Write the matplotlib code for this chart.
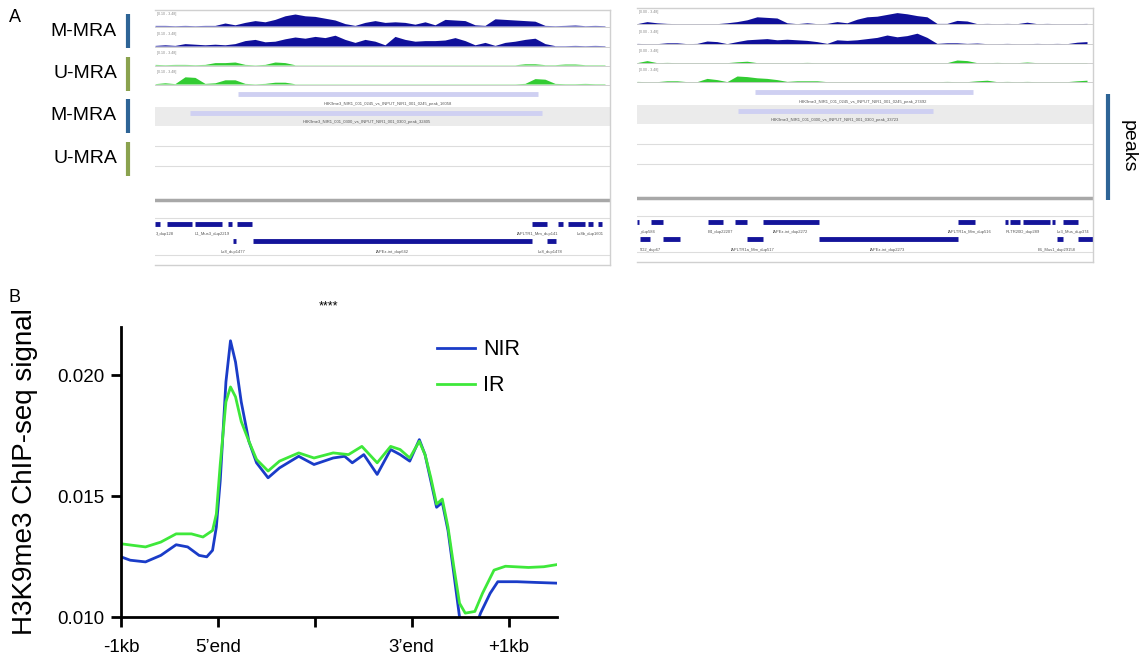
import numpy as np
import matplotlib.pyplot as plt

plt.rcParams['font.family'] = ['Liberation Sans', 'DejaVu Sans']

W, H = 1144, 663

# ---------------- panel A: browser tracks (coverage fractions of track max) ----------------
cov_left = [
    [0.05, 0.05, 0.03, 0.05, 0.03, 0.05, 0.05, 0.25, 0.1, 0.3, 0.45, 0.35, 0.55, 0.85, 1.0, 0.85,
     0.8, 0.65, 0.5, 0.2, 0.05, 0.3, 0.45, 0.3, 0.35, 0.3, 0.15, 0.35, 0.1, 0.55, 0.5, 0.45, 0.1,
     0.05, 0.6, 0.55, 0.5, 0.45, 0.4, 0.05, 0.03, 0.05, 0.08, 0.03, 0.05, 0.03],
    [0.05, 0.1, 0.05, 0.2, 0.15, 0.1, 0.15, 0.1, 0.2, 0.45, 0.55, 0.35, 0.4, 0.6, 0.75, 0.65,
     0.8, 0.7, 0.9, 0.55, 0.3, 0.55, 0.4, 0.1, 0.8, 0.55, 0.4, 0.45, 0.45, 0.5, 0.7, 0.45, 0.1,
     0.3, 0.05, 0.3, 0.4, 0.55, 0.65, 0.2, 0.03, 0.03, 0.05, 0.03, 0.05, 0.03],
    [0.05, 0.03, 0.05, 0.05, 0.03, 0.05, 0.2, 0.2, 0.25, 0.05, 0.02, 0.05, 0.25, 0.2, 0.02, 0.02,
     0.02, 0.02, 0.02, 0.02, 0.02, 0.02, 0.02, 0.02, 0.02, 0.02, 0.02, 0.02, 0.02, 0.02, 0.02, 0.02,
     0.02, 0.02, 0.02, 0.02, 0.02, 0.1, 0.1, 0.03, 0.03, 0.08, 0.08, 0.03, 0.03, 0.03],
    [0.03, 0.1, 0.03, 0.6, 0.55, 0.05, 0.1, 0.35, 0.35, 0.05, 0.02, 0.05, 0.15, 0.15, 0.02, 0.02,
     0.02, 0.02, 0.02, 0.02, 0.02, 0.02, 0.02, 0.02, 0.02, 0.02, 0.02, 0.02, 0.02, 0.02, 0.02, 0.02,
     0.02, 0.02, 0.02, 0.02, 0.02, 0.05, 0.45, 0.4, 0.05, 0.03, 0.03, 0.05, 0.03, 0.03],
]
cov_right = [
    [0.03, 0.2, 0.1, 0.05, 0.03, 0.03, 0.03, 0.03, 0.03, 0.1, 0.2, 0.35, 0.6, 0.55, 0.5, 0.1,
     0.03, 0.1, 0.03, 0.05, 0.2, 0.1, 0.4, 0.6, 0.65, 0.8, 0.95, 0.85, 0.7, 0.6, 0.05, 0.05, 0.3,
     0.25, 0.03, 0.05, 0.03, 0.05, 0.03, 0.15, 0.03, 0.05, 0.03, 0.03, 0.03, 0.05],
    [0.05, 0.03, 0.03, 0.1, 0.1, 0.03, 0.05, 0.25, 0.2, 0.03, 0.2, 0.35, 0.4, 0.45, 0.35, 0.4,
     0.35, 0.3, 0.2, 0.05, 0.35, 0.3, 0.35, 0.45, 0.55, 0.75, 0.6, 0.7, 0.9, 0.55, 0.05, 0.1, 0.1,
     0.05, 0.08, 0.03, 0.03, 0.05, 0.03, 0.03, 0.05, 0.03, 0.05, 0.03, 0.15, 0.2],
    [0.03, 0.2, 0.03, 0.05, 0.03, 0.03, 0.03, 0.03, 0.03, 0.03, 0.1, 0.15, 0.03, 0.03, 0.03, 0.03,
     0.03, 0.05, 0.03, 0.03, 0.03, 0.03, 0.03, 0.03, 0.03, 0.03, 0.03, 0.03, 0.03, 0.03, 0.03, 0.03,
     0.25, 0.2, 0.03, 0.03, 0.05, 0.03, 0.03, 0.08, 0.03, 0.03, 0.03, 0.03, 0.03, 0.03],
    [0.05, 0.03, 0.03, 0.1, 0.1, 0.03, 0.03, 0.3, 0.2, 0.03, 0.5, 0.45, 0.35, 0.3, 0.2, 0.05,
     0.1, 0.1, 0.1, 0.03, 0.03, 0.03, 0.03, 0.03, 0.03, 0.03, 0.03, 0.03, 0.03, 0.03, 0.03, 0.05,
     0.03, 0.03, 0.1, 0.15, 0.03, 0.05, 0.03, 0.05, 0.03, 0.03, 0.03, 0.03, 0.1, 0.15],
]
track_colors = ['#10109a', '#10109a', '#33cc33', '#33cc33']
range_left = '[0.10 - 3.48]'
range_right = '[0.00 - 3.48]'

peaks_left = [(83, 383, 'H3K9me3_NIR1_001_0245_vs_INPUT_NIR1_001_0245_peak_16058', 233),
              (35, 387, 'H3K9me3_NIR1_001_0300_vs_INPUT_NIR1_001_0300_peak_32405', 212)]
peaks_right = [(118, 336, 'H3K9me3_NIR1_001_0245_vs_INPUT_NIR1_001_0245_peak_27492', 226),
               (101, 296, 'H3K9me3_NIR1_001_0300_vs_INPUT_NIR1_001_0300_peak_33723', 198)]

rep_left_1 = [(0, 5), (12, 37), (40, 67), (73, 77), (82, 97), (377, 392), (403, 408),
              (413, 430), (433, 438), (443, 447)]
rep_left_1_lab = [('3_dup128', 10), ('L1_Mus3_dup2219', 57), ('IAPLTR1_Mm_dup141', 382),
                  ('Lx8b_dup1601', 435)]
rep_left_2 = [(78, 81), (98, 377), (392, 401)]
rep_left_2_lab = [('Lx8_dup1477', 78), ('IAPEz-int_dup642', 237), ('Lx8_dup1478', 395)]

rep_right_1 = [(0, 2), (14, 26), (71, 86), (98, 110), (126, 182), (321, 338), (368, 371),
               (373, 383), (386, 413), (415, 418), (426, 441)]
rep_right_1_lab = [('_dup584', 10), ('B4_dup22207', 83), ('IAPEz-int_dup2272', 153),
                   ('IAPLTR1a_Mm_dup516', 333), ('RLTR20D_dup289', 386), ('Lx3_Mus_dup374', 436)]
rep_right_2 = [(3, 13), (26, 43), (110, 126), (182, 321), (420, 426), (441, 456)]
rep_right_2_lab = [('5D2_dup67', 13), ('IAPLTR1a_Mm_dup517', 116), ('IAPEz-int_dup2273', 250),
                   ('B1_Mus1_dup29158', 420)]

row_labels = ['M-MRA', 'U-MRA', 'M-MRA', 'U-MRA']
row_colors = ['#2e6496', '#8aa24e', '#2e6496', '#8aa24e']

# ---------------- panel B: profile ----------------
pos_ticks = [0, 1, 2, 3, 4]
pos_labels = ['-1kb', '5\u2019end', '', '3\u2019end', '+1kb']

nir_x = [0, 0.095, 0.253, 0.411, 0.569, 0.688, 0.806, 0.885, 0.945, 0.984, 1.024, 1.083, 1.130,
         1.182, 1.241, 1.320, 1.399, 1.518, 1.636, 1.834, 1.992, 2.190, 2.308, 2.387, 2.506, 2.644,
         2.783, 2.881, 2.980, 3.079, 3.138, 3.198, 3.257, 3.316, 3.375, 3.435, 3.494, 3.553, 3.652,
         3.711, 3.810, 3.889, 4.087, 4.285, 4.502]
nir_y = [0.01249, 0.01235, 0.01228, 0.01255, 0.01299, 0.0129, 0.01255, 0.01249, 0.01276, 0.01372,
         0.01563, 0.01973, 0.02143, 0.02055, 0.0189, 0.01727, 0.01638, 0.01576, 0.01617, 0.01665,
         0.01631, 0.01658, 0.01665, 0.01638, 0.01672, 0.0159, 0.01693, 0.01672, 0.01645, 0.01734,
         0.01672, 0.01563, 0.01454, 0.01474, 0.01358, 0.0118, 0.0100, 0.00934, 0.0095, 0.01016,
         0.01098, 0.01146, 0.01146, 0.01143, 0.0114]
ir_x = [0, 0.134, 0.253, 0.411, 0.569, 0.727, 0.846, 0.945, 0.984, 1.024, 1.083, 1.130, 1.182,
        1.241, 1.320, 1.399, 1.518, 1.636, 1.834, 1.992, 2.190, 2.348, 2.486, 2.644, 2.783, 2.881,
        2.980, 3.079, 3.138, 3.198, 3.257, 3.316, 3.375, 3.435, 3.494, 3.553, 3.652, 3.731, 3.850,
        3.968, 4.206, 4.364, 4.502]
ir_y = [0.01303, 0.01296, 0.0129, 0.0131, 0.01344, 0.01344, 0.01331, 0.01358, 0.01426, 0.01631,
        0.0189, 0.01952, 0.01911, 0.01809, 0.01727, 0.01652, 0.01604, 0.01645, 0.01679, 0.01658,
        0.01679, 0.01672, 0.01706, 0.01638, 0.01706, 0.01693, 0.01658, 0.01727, 0.01672, 0.01576,
        0.01467, 0.01488, 0.01372, 0.01208, 0.01057, 0.01016, 0.01023, 0.01098, 0.01194, 0.0121,
        0.01205, 0.01208, 0.01217]

fig = plt.figure(figsize=(W / 100, H / 100), dpi=100)


def px_axes(x0, y0, w, h):
    return fig.add_axes([x0 / W, 1 - (y0 + h) / H, w / W, h / H])


def browser(x0, y0, w, h, cov, rng, peaks, r1, r1lab, r2, r2lab):
    ax = px_axes(x0, y0, w, h)
    ax.set_xlim(0, w)
    ax.set_ylim(h, 0)
    ax.set_xticks([])
    ax.set_yticks([])
    for s in ax.spines.values():
        s.set_color('#d0d0d0')
        s.set_linewidth(1)
    ax.spines['left'].set_visible(False)
    xs = np.linspace(0, 450, len(cov[0]))
    bases = [16, 36, 55, 74]
    for vals, base, col in zip(cov, bases, track_colors):
        ax.fill_between(xs, base, base - np.array(vals) * 12, color=col, lw=0)
        ax.axhline(base + 0.5, color='#c8c8c8', lw=0.6)
        ax.text(2, base - 12, rng, fontsize=2.6, color='#888888', va='center')
    # peaks rows
    ax.axhspan(97, 116, color='#ebebeb', lw=0)
    for (a, b, lab, cx), yb, yt in zip(peaks, [84, 103], [94, 112]):
        ax.plot([a, b], [yb, yb], color='#cfd0f2', lw=3.5, solid_capstyle='butt')
        ax.text(cx, yt, lab, fontsize=3, color='#555555', ha='center', va='center')
    for yl in [136, 156, 208]:
        ax.axhline(yl, color='#dddddd', lw=0.8)
    ax.axhline(190, color='#a8a8a8', lw=2.5)
    ax.axhline(h - 10, color='#dddddd', lw=0.8)
    # repeat features
    for segs, labs, yb, yt in [(r1, r1lab, 214, 224), (r2, r2lab, 231, 242)]:
        for a, b in segs:
            ax.plot([a, b], [yb, yb], color='#14149a', lw=3.5, solid_capstyle='butt')
        for lab, cx in labs:
            ax.text(cx, yt, lab, fontsize=3, color='#555555', ha='center', va='center')
    return ax


browser(155, 10, 455, 255, cov_left, range_left, peaks_left,
        rep_left_1, rep_left_1_lab, rep_left_2, rep_left_2_lab)
browser(637, 8, 456, 254, cov_right, range_right, peaks_right,
        rep_right_1, rep_right_1_lab, rep_right_2, rep_right_2_lab)

# left labels with coloured bars
lab_ax = px_axes(0, 0, 150, 200)
lab_ax.set_xlim(0, 150)
lab_ax.set_ylim(200, 0)
lab_ax.axis('off')
for i, (lab, col) in enumerate(zip(row_labels, row_colors)):
    yc = 31 + i * 42.5
    lab_ax.text(117, yc, lab, fontsize=14, ha='right', va='center')
    lab_ax.plot([128, 128], [yc - 17, yc + 17], color=col, lw=3, solid_capstyle='butt')

# peaks label on the right
pk_ax = px_axes(1095, 80, 49, 130)
pk_ax.set_xlim(0, 49)
pk_ax.set_ylim(130, 0)
pk_ax.axis('off')
pk_ax.plot([13, 13], [14, 120], color='#2e6496', lw=3, solid_capstyle='butt')
pk_ax.text(33, 66, 'peaks', fontsize=14, rotation=270, ha='center', va='center')

fig.text(15 / W, 1 - 18 / H, 'A', fontsize=13, ha='center', va='center')
fig.text(15 / W, 1 - 298 / H, 'B', fontsize=13, ha='center', va='center')

# ---------------- panel B ----------------
ax = px_axes(121, 327, 436, 290)
ax.plot(nir_x, nir_y, color='#1a3cc8', lw=2, label='NIR')
ax.plot(ir_x, ir_y, color='#3ee83a', lw=2, label='IR')
ax.set_xlim(0, 4.5)
ax.set_ylim(0.010, 0.022)
ax.set_yticks([0.010, 0.015, 0.020])
ax.set_yticklabels(['0.010', '0.015', '0.020'])
ax.set_xticks(pos_ticks)
ax.set_xticklabels(pos_labels)
for s in ['top', 'right']:
    ax.spines[s].set_visible(False)
for s in ['left', 'bottom']:
    ax.spines[s].set_linewidth(2)
ax.tick_params(axis='both', width=2, length=7, labelsize=13.5, direction='out')
ax.tick_params(axis='x', pad=9)
ax.tick_params(axis='y', pad=5)
ax.set_ylabel('H3K9me3 ChIP-seq signal', fontsize=20, labelpad=14)
ax.legend(loc='upper right', bbox_to_anchor=(0.96, 1.025), frameon=False, fontsize=15.5,
          handlelength=1.75, handletextpad=0.4, labelspacing=0.7)
fig.text(328 / W, 1 - 306 / H, '****', fontsize=9, ha='center', va='center')

fig.savefig('out.png', dpi=100)
